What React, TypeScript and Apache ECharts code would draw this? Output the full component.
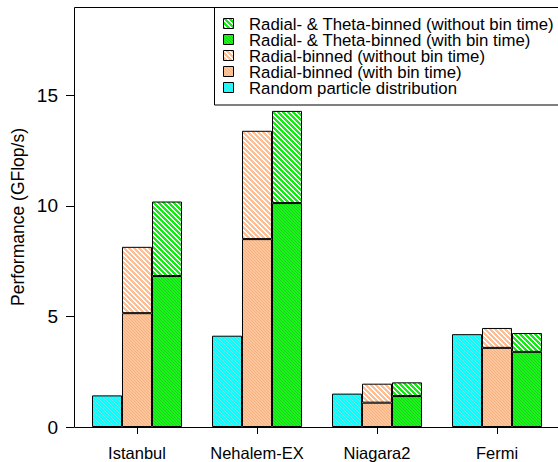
import React, { useEffect, useRef } from 'react';
import * as echarts from 'echarts';

// Performance per platform (GFlop/s)
const categories = ['Istanbul', 'Nehalem-EX', 'Niagara2', 'Fermi'];
const randomDist = [1.43, 4.13, 1.51, 4.2];
const radialWithBin = [5.15, 8.5, 1.1, 3.58];
const radialWithoutBin = [8.15, 13.4, 1.96, 4.48];
const thetaWithBin = [6.83, 10.13, 1.4, 3.4];
const thetaWithoutBin = [10.2, 14.3, 2.02, 4.25];
const yTicks = [0, 5, 10, 15];
const yMax = 19;

const legendLabels = [
  'Radial- & Theta-binned (without bin time)',
  'Radial- & Theta-binned (with bin time)',
  'Radial-binned (without bin time)',
  'Radial-binned (with bin time)',
  'Random particle distribution',
];

const FONT = "'Liberation Sans', Arial, Helvetica, sans-serif";

type RGB = [number, number, number];

// Diagonal ("\") stripe tile: stripe colour over a background colour
function stripeTile(stripe: RGB, bg: RGB, period: number, width: number) {
  const c = document.createElement('canvas');
  c.width = period;
  c.height = period;
  const ctx = c.getContext('2d')!;
  const img = ctx.createImageData(period, period);
  for (let y = 0; y < period; y++) {
    for (let x = 0; x < period; x++) {
      const k = (((x - y) % period) + period) % period;
      const col = k < width ? stripe : bg;
      const i = (y * period + x) * 4;
      img.data[i] = col[0];
      img.data[i + 1] = col[1];
      img.data[i + 2] = col[2];
      img.data[i + 3] = 255;
    }
  }
  ctx.putImageData(img, 0, 0);
  return { image: c.toDataURL(), repeat: 'repeat', imageWidth: period, imageHeight: period } as any;
}

export default function App() {
  const ref = useRef<HTMLDivElement>(null);

  useEffect(() => {
    if (!ref.current) return;
    const chart = echarts.init(ref.current, undefined, { renderer: 'svg' });

    const WHITE: RGB = [255, 255, 255];
    const cyanSolid = stripeTile([120, 225, 225], [0, 255, 255], 3, 1);
    const orangeSolid = stripeTile([240, 178, 135], [255, 196, 152], 3, 1);
    const greenSolid = stripeTile([40, 200, 40], [20, 250, 20], 3, 1);
    const orangeHatch = stripeTile([255, 190, 145], WHITE, 5, 3);
    const greenHatch = stripeTile([20, 235, 20], WHITE, 5, 3);

    const border = { borderColor: '#000', borderWidth: 1 };
    const base = { type: 'bar', barWidth: 30, barGap: '0%', itemStyle: border };

    const legendFills = [greenHatch, greenSolid, orangeHatch, orangeSolid, cyanSolid];
    const rowY = [24, 40, 56, 72, 88];

    const legendItems: any[] = [];
    legendLabels.forEach((label, i) => {
      legendItems.push({
        type: 'rect',
        shape: { x: 223.5, y: rowY[i] - 5.5, width: 10, height: 10 },
        style: { fill: legendFills[i], stroke: '#000', lineWidth: 1 },
      });
      legendItems.push({
        type: 'text',
        x: 249,
        y: rowY[i],
        style: {
          text: label,
          font: `16.8px ${FONT}`,
          lineHeight: 15,
          fill: '#000',
          textAlign: 'left',
          textVerticalAlign: 'middle',
        },
      });
    });

    chart.setOption({
      animation: false,
      backgroundColor: '#fff',
      grid: { left: 77, top: 7, width: 480, height: 420 },
      xAxis: {
        type: 'category',
        data: categories,
        axisLine: { show: false },
        axisTick: { show: true, alignWithLabel: true, length: 7, lineStyle: { color: '#000', width: 1 } },
        axisLabel: { color: '#000', fontFamily: FONT, fontSize: 16.5, margin: 17, interval: 0 },
        splitLine: { show: false },
      },
      yAxis: {
        type: 'value',
        min: 0,
        max: yMax,
        offset: 3,
        axisLine: { show: false },
        axisTick: {
          show: true,
          length: 8,
          customValues: yTicks,
          lineStyle: { color: '#000', width: 1 },
        },
        axisLabel: {
          color: '#000',
          fontFamily: FONT,
          fontSize: 19,
          margin: 16,
          customValues: yTicks,
        },
        splitLine: { show: false },
      },
      series: [
        {
          ...base,
          name: 'Random particle distribution',
          data: randomDist,
          itemStyle: { ...border, color: cyanSolid },
        },
        {
          ...base,
          name: 'Radial-binned (with bin time)',
          stack: 'radial',
          data: radialWithBin,
          itemStyle: { ...border, color: orangeSolid },
        },
        {
          ...base,
          name: 'Radial-binned (without bin time)',
          stack: 'radial',
          data: radialWithoutBin.map((v, i) => +(v - radialWithBin[i]).toFixed(3)),
          itemStyle: { ...border, color: orangeHatch },
        },
        {
          ...base,
          name: 'Radial- & Theta-binned (with bin time)',
          stack: 'theta',
          data: thetaWithBin,
          itemStyle: { ...border, color: greenSolid },
        },
        {
          ...base,
          name: 'Radial- & Theta-binned (without bin time)',
          stack: 'theta',
          data: thetaWithoutBin.map((v, i) => +(v - thetaWithBin[i]).toFixed(3)),
          itemStyle: { ...border, color: greenHatch },
        },
      ],
      graphic: [
        {
          type: 'rect',
          z: 50,
          shape: { x: 74.5, y: 7.5, width: 486, height: 420 },
          style: { fill: 'none', stroke: '#000', lineWidth: 1 },
        },
        {
          type: 'text',
          x: 18,
          y: 217,
          rotation: Math.PI / 2,
          style: {
            text: 'Performance (GFlop/s)',
            font: `17.5px ${FONT}`,
            fill: '#000',
            textAlign: 'center',
            textVerticalAlign: 'middle',
          },
        },
        {
          type: 'group',
          z: 60,
          children: [
            {
              type: 'rect',
              shape: { x: 214.5, y: 7.5, width: 346, height: 97.5 },
              style: { fill: '#fff', stroke: '#000', lineWidth: 1 },
            },
            ...legendItems,
          ],
        },
      ],
    });

    return () => chart.dispose();
  }, []);

  return (
    <div
      ref={ref}
      style={{ position: 'fixed', left: 0, top: 0, width: 558, height: 462, background: '#fff' }}
    />
  );
}
